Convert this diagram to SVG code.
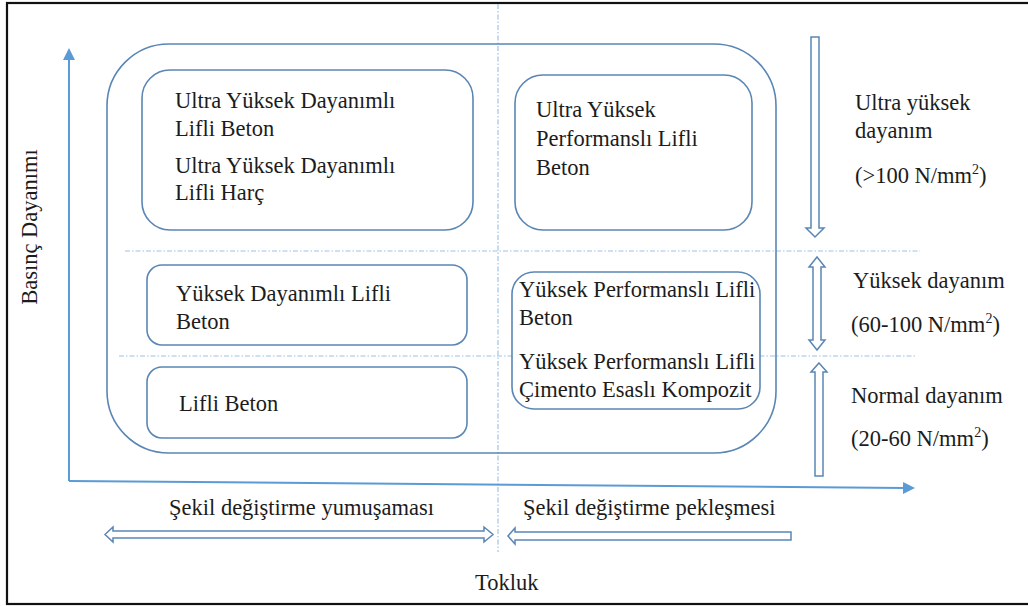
<svg xmlns="http://www.w3.org/2000/svg" width="1028" height="606" viewBox="0 0 1028 606">
<style>
text{font-family:"Liberation Serif","Times New Roman",serif;font-size:22.5px;fill:#1c1c1c}
.box{fill:#fff;stroke:#5a86b5;stroke-width:1.6}
.outer{fill:none;stroke:#5a86b5;stroke-width:1.6}
.dash{fill:none;stroke:#9dc3e6;stroke-width:1.2;stroke-dasharray:5 2 1.5 2}
.axis{fill:none;stroke:#5b9bd5;stroke-width:2}
.harrow{fill:#fff;stroke:#5a86b5;stroke-width:1.5;stroke-linejoin:miter}
</style>
<defs>
<marker id="ah" viewBox="0 0 12 12" refX="2" refY="6" markerWidth="12" markerHeight="12" markerUnits="userSpaceOnUse" orient="auto">
<path d="M0,0 L12,6 L0,12 Z" fill="#5b9bd5"/>
</marker>
</defs>
<rect x="0" y="0" width="1028" height="606" fill="#fff"/>
<rect x="7" y="3" width="1030" height="601" fill="none" stroke="#111" stroke-width="2.2"/>

<g id="guides">
<line class="dash" x1="498" y1="4" x2="498" y2="552"/>
<line class="dash" x1="125" y1="251" x2="920" y2="251"/>
<line class="dash" x1="119" y1="356" x2="915" y2="356"/>
</g>

<g id="axes">
<line class="axis" x1="69" y1="481" x2="69" y2="58" marker-end="url(#ah)"/>
<line class="axis" x1="69" y1="481" x2="905" y2="488" marker-end="url(#ah)"/>
<text transform="translate(37,227) rotate(-90)" text-anchor="middle">Basınç Dayanımı</text>
<text x="475" y="590">Tokluk</text>
</g>

<g id="group-outer">
<rect class="outer" x="107" y="44" width="669" height="409" rx="62" ry="62"/>
</g>

<g id="node-uyd">
<rect class="box" x="142" y="70" width="331" height="160" rx="28" ry="28"/>
<text x="175" y="108">Ultra Yüksek Dayanımlı</text>
<text x="175" y="136">Lifli Beton</text>
<text x="175" y="173">Ultra Yüksek Dayanımlı</text>
<text x="175" y="200">Lifli Harç</text>
</g>

<g id="node-uyp">
<rect class="box" x="515" y="75" width="237" height="155" rx="28" ry="28"/>
<text x="536" y="117">Ultra Yüksek</text>
<text x="536" y="146">Performanslı Lifli</text>
<text x="536" y="175">Beton</text>
</g>

<g id="node-ydlb">
<rect class="box" x="147" y="265" width="320" height="80" rx="15" ry="15"/>
<text x="176" y="301">Yüksek Dayanımlı Lifli</text>
<text x="176" y="329">Beton</text>
</g>

<g id="node-lb">
<rect class="box" x="147" y="367" width="320" height="71" rx="15" ry="15"/>
<text x="179" y="411">Lifli Beton</text>
</g>

<g id="node-yp">
<rect class="box" x="512" y="272" width="248" height="137" rx="22" ry="22"/>
<text x="519" y="297">Yüksek Performanslı Lifli</text>
<text x="519" y="325">Beton</text>
<text x="519" y="369">Yüksek Performanslı Lifli</text>
<text x="519" y="397">Çimento Esaslı Kompozit</text>
</g>

<g id="connectors">
<path class="harrow" d="M811,37 H819 V228 H824 L815,237 L806,228 H811 Z"/>
<path class="harrow" d="M817,257 L825,267 H821 V340 H825 L817,350 L809,340 H813 V267 H809 Z"/>
<path class="harrow" d="M819,363 L827,372 H823 V476 H815 V372 H811 Z"/>
<path class="harrow" d="M105,534.5 L113,527 V531 H484 V527 L493,534.5 L484,542 V538 H113 V542 Z"/>
<path class="harrow" d="M508,536 L515,528 V532 H791 V540 H515 V544 Z"/>
</g>

<g id="labels">
<text x="855" y="110">Ultra yüksek</text>
<text x="855" y="138">dayanım</text>
<text x="855" y="183">(&gt;100 N/mm<tspan font-size="14" dy="-9">2</tspan><tspan dy="9">)</tspan></text>
<text x="853" y="288">Yüksek dayanım</text>
<text x="851" y="332">(60-100 N/mm<tspan font-size="14" dy="-9">2</tspan><tspan dy="9">)</tspan></text>
<text x="851" y="403">Normal dayanım</text>
<text x="851" y="446">(20-60 N/mm<tspan font-size="14" dy="-9">2</tspan><tspan dy="9">)</tspan></text>
<text x="169" y="515">Şekil değiştirme yumuşaması</text>
<text x="523" y="515">Şekil değiştirme pekleşmesi</text>
</g>
</svg>
